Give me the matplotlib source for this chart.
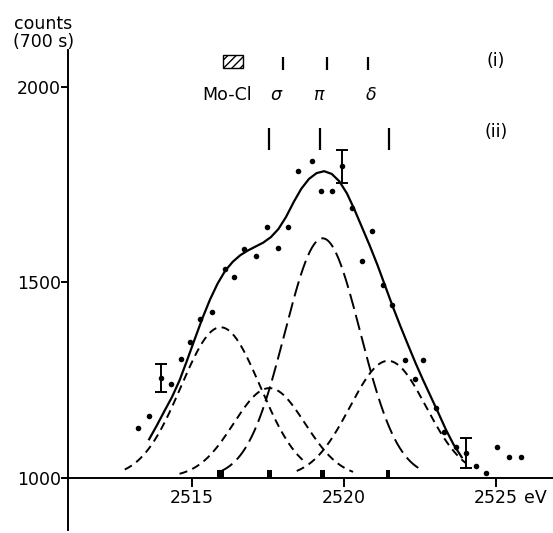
import numpy as np
import matplotlib.pyplot as plt
from matplotlib.patches import Rectangle

plt.rcParams['font.family'] = ['DejaVu Sans']
plt.rcParams['font.size'] = 12.5

# measured spectrum: photon energy (eV) and counts per 700 s
energy = [2513.24, 2513.59, 2513.98, 2514.32, 2514.65, 2514.93, 2515.28, 2515.67,
          2516.09, 2516.40, 2516.73, 2517.12, 2517.47, 2517.84, 2518.17, 2518.50,
          2518.95, 2519.25, 2519.60, 2519.93, 2520.25, 2520.58, 2520.93, 2521.27,
          2521.57, 2522.01, 2522.33, 2522.61, 2523.02, 2523.30, 2523.67, 2524.01,
          2524.33, 2524.67, 2525.02, 2525.42, 2525.81]
counts = [1126, 1158, 1254, 1240, 1304, 1347, 1407, 1423,
          1534, 1514, 1585, 1567, 1642, 1587, 1642, 1786,
          1812, 1734, 1734, 1798, 1691, 1555, 1632, 1494,
          1442, 1300, 1252, 1300, 1179, 1117, 1079, 1062,
          1030, 1011, 1079, 1053, 1053]

# typical statistical errors
err_energy = [2513.98, 2519.93, 2524.01]
err_counts = [1254, 1798, 1062]
err_size = [36, 42, 38]

# fitted envelope
env_energy = [2513.60, 2513.85, 2514.10, 2514.35, 2514.60, 2514.85, 2515.10, 2515.35,
              2515.60, 2515.85, 2516.10, 2516.35, 2516.60, 2516.85, 2517.10, 2517.35,
              2517.60, 2517.85, 2518.10, 2518.35, 2518.60, 2518.85, 2519.10, 2519.35,
              2519.60, 2519.85, 2520.10, 2520.35, 2520.60, 2520.85, 2521.10, 2521.35,
              2521.60, 2521.85, 2522.10, 2522.35, 2522.60, 2522.85, 2523.10, 2523.35,
              2523.60, 2523.87]
env_counts = [1098, 1133, 1170, 1206, 1249, 1301, 1355, 1408,
              1456, 1497, 1530, 1553, 1570, 1582, 1592, 1602,
              1616, 1637, 1668, 1706, 1740, 1765, 1780, 1785,
              1778, 1759, 1728, 1686, 1640, 1594, 1545, 1492,
              1439, 1389, 1341, 1294, 1250, 1208, 1166, 1123,
              1085, 1052]

# fitted components (Mo-Cl, sigma, pi, delta)
comp_centre = [2515.95, 2517.55, 2519.30, 2521.45]
comp_height = [385, 229, 613, 299]
comp_width = [1.30, 1.17, 1.24, 1.25]
comp_start = [2512.80, 2514.60, 2515.90, 2518.45]
comp_stop = [2518.70, 2520.30, 2522.50, 2524.00]
base = 1000

# level positions, (i) and (ii)
levels_i = [2518.00, 2519.43, 2520.79]
levels_ii = [2517.55, 2519.21, 2521.47]
level_names = ['Mo-Cl', r'$\sigma$', r'$\pi$', r'$\delta$']
name_pos = [2516.15, 2517.80, 2519.20, 2520.90]

xticks = [2515, 2520, 2525]
yticks = [1000, 1500, 2000]


def gauss(e, c, h, w):
    return h * np.exp(-(e - c) ** 2 / (2 * w ** 2))


fig = plt.figure(figsize=(5.53, 5.33), dpi=100)
ax = fig.add_axes([0, 0, 1, 1])
ax.set_xlim(2508.70, 2526.87)
ax.set_ylim(857.8, 2223.7)

# axes drawn as crossing lines
for s in ['top', 'right']:
    ax.spines[s].set_visible(False)
ax.spines['left'].set_position(('data', 2510.95))
ax.spines['bottom'].set_position(('data', 1000))
ax.spines['left'].set_bounds(865, 2096)
ax.spines['bottom'].set_bounds(2510.73, 2526.87)
ax.spines['left'].set_linewidth(1.4)
ax.spines['bottom'].set_linewidth(1.4)
ax.set_xticks(xticks)
ax.set_yticks(yticks)
ax.tick_params(axis='x', direction='out', length=6.5, width=1.4, pad=2)
ax.tick_params(axis='y', direction='out', length=5, width=1.4, pad=0.5)
ax.text(2526.28, 947.5, 'eV', ha='center', va='center')
fig.text(0.078, 0.972, 'counts\n(700 s)', ha='center', va='top', linespacing=1.0)

# components and envelope
for c, h, w, a, b in zip(comp_centre, comp_height, comp_width, comp_start, comp_stop):
    e = np.linspace(a, b, 300)
    dash = (8.0, 3.2) if h == max(comp_height) else (4.2, 2.8)
    ax.plot(e, base + gauss(e, c, h, w), color='black', lw=1.4, dashes=dash)
ax.plot(env_energy, env_counts, color='black', lw=1.6, solid_joinstyle='round')

# data
ax.plot(energy, counts, 'o', color='black', ms=4, mec='none')
ax.errorbar(err_energy, err_counts, yerr=err_size, fmt='none', ecolor='black',
            elinewidth=1.4, capsize=4, capthick=1.4)

# component positions on the baseline
ax.bar(comp_centre[:1], [20], width=0.23, bottom=base, color='black')
ax.bar(comp_centre[1:], [18] * 3, width=0.16, bottom=base, color='black')

# level markers
ax.add_patch(Rectangle((2516.03, 2050), 0.65, 33, fill=False, hatch='////',
                       edgecolor='black', lw=1.0))
ax.vlines(levels_i, 2044, 2078, color='black', lw=1.6)
ax.vlines(levels_ii, 1840, 1895, color='black', lw=1.6)
for name, x in zip(level_names, name_pos):
    ax.text(x, 1980, name, ha='center', va='center')
ax.text(2525.0, 2068, '(i)', ha='center', va='center')
ax.text(2525.0, 1885, '(ii)', ha='center', va='center')

fig.savefig('out.png', dpi=100)
